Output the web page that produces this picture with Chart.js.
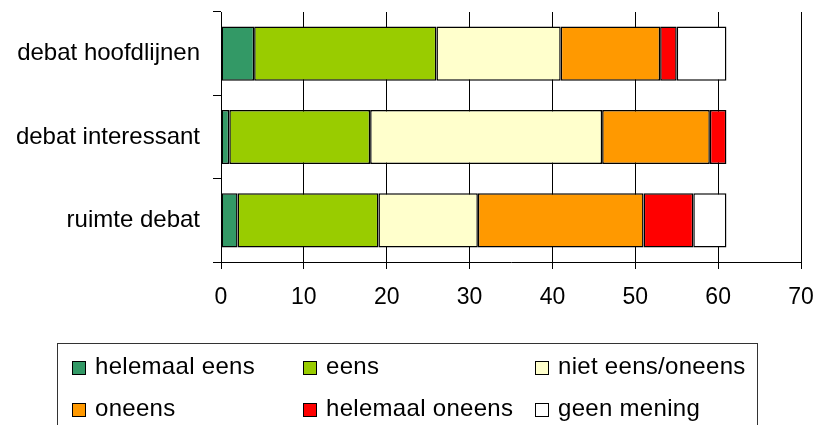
<!DOCTYPE html>
<html>
<head>
<meta charset="utf-8">
<script src="https://cdn.jsdelivr.net/npm/chart.js@4"></script>
<style>
    html, body { margin: 0; padding: 0; background: #fff; }
    .chart-container { position: relative; width: 816px; height: 425px; overflow: hidden; }
    #legend {
        position: absolute; left: 57px; top: 343px; width: 701px; height: 110px;
        border: 1px solid #333; box-sizing: border-box;
        font-family: "Liberation Sans", Arial, sans-serif; font-size: 24px; letter-spacing: 0.3px; color: #000;
    }
    .item { position: absolute; white-space: nowrap; line-height: 26px; }
    .box { display: inline-block; width: 12px; height: 12px; border: 1.5px solid #000; vertical-align: -1px; margin-right: 9px; }
</style>
</head>
<body>
<div class="chart-container">
    <canvas id="stackChart"></canvas>
    <div id="legend"></div>
</div>
<script>
// categorie en reeksen
const categories = ['debat hoofdlijnen', 'debat interessant', 'ruimte debat'];
const seriesNames = ['helemaal eens', 'eens', 'niet eens/oneens', 'oneens', 'helemaal oneens', 'geen mening'];
const seriesColors = ['#339966', '#99CC00', '#FFFFCC', '#FF9900', '#FF0000', '#FFFFFF'];

const helemaalEens   = [4, 1, 2];
const eens           = [22, 17, 17];
const nietEensOneens = [15, 28, 12];
const oneens         = [12, 13, 20];
const helemaalOneens = [2, 2, 6];
const geenMening     = [6, 0, 4];

const tickValues = [0, 10, 20, 30, 40, 50, 60, 70];

const allSeries = [helemaalEens, eens, nietEensOneens, oneens, helemaalOneens, geenMening];
const fontFamily = '"Liberation Sans", Arial, sans-serif';

// geen extra ruimte rond de assen
function noPadding(scale) {
    scale.paddingTop = 0;
    scale.paddingBottom = 0;
    scale.paddingLeft = 0;
    scale.paddingRight = 0;
}

const ctx = document.getElementById('stackChart').getContext('2d');
const myChart = new Chart(ctx, {
    type: 'bar',
    data: {
        labels: categories,
        datasets: allSeries.map((vals, i) => ({
            label: seriesNames[i],
            data: vals,
            backgroundColor: seriesColors[i],
            borderColor: '#000',
            borderWidth: 1.5,
            borderSkipped: false,
            categoryPercentage: 0.65,
            barPercentage: 1
        }))
    },
    options: {
        indexAxis: 'y',
        responsive: true,
        maintainAspectRatio: false,
        animation: false,
        layout: { padding: { top: 12, right: 15, left: 0, bottom: 0 } },
        plugins: {
            legend: { display: false },
            tooltip: { enabled: false }
        },
        scales: {
            x: {
                stacked: true,
                min: 0,
                max: 70,
                afterBuildTicks: (scale) => { scale.ticks = tickValues.map(v => ({ value: v })); },
                afterFit: (scale) => { scale.height = 163; noPadding(scale); },
                grid: { color: '#000', lineWidth: 1, tickLength: 7 },
                border: { color: '#000', width: 1 },
                ticks: { color: '#000', padding: 15, font: { family: fontFamily, size: 23 } }
            },
            y: {
                stacked: true,
                afterFit: (scale) => { scale.width = 221; noPadding(scale); },
                grid: { drawOnChartArea: false, color: '#000', tickLength: 8 },
                border: { color: '#000', width: 1 },
                ticks: { color: '#000', padding: 13, font: { family: fontFamily, size: 24 } }
            }
        }
    }
});

// legenda in drie kolommen, zoals het origineel
const legend = document.getElementById('legend');
const colLeft = [14, 245, 477];
const rowTop = [9, 51];
seriesNames.forEach((name, i) => {
    const el = document.createElement('div');
    el.className = 'item';
    el.style.left = colLeft[i % 3] + 'px';
    el.style.top = rowTop[Math.floor(i / 3)] + 'px';
    el.innerHTML = '<span class="box" style="background:' + seriesColors[i] + '"></span>' + name;
    legend.appendChild(el);
});
</script>
</body>
</html>
